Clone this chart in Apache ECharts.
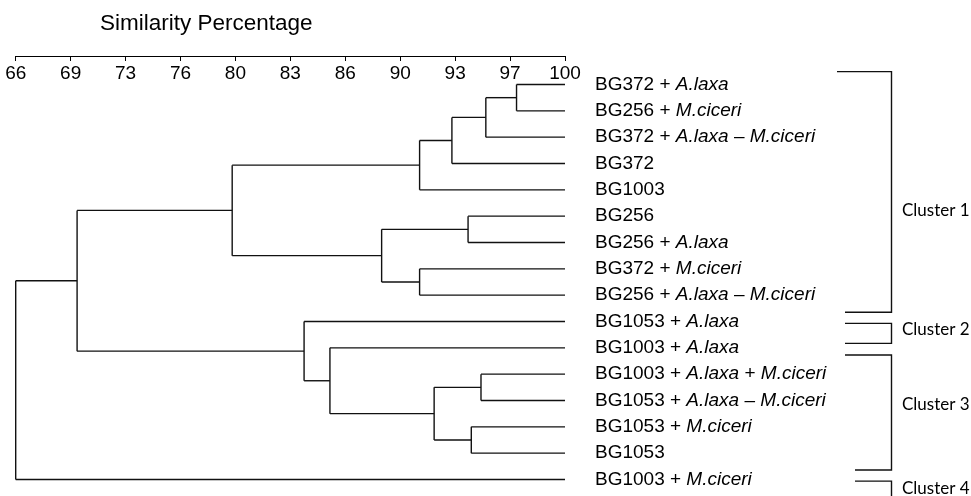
<!DOCTYPE html>
<html>
<head>
<meta charset="utf-8">
<title>Similarity Percentage</title>
<script src="https://cdn.jsdelivr.net/npm/echarts@6/dist/echarts.min.js"></script>
<style>
	html, body { margin: 0; padding: 0; background: #fff; }
	#chart { width: 971px; height: 496px; }
</style>
</head>
<body>
<div id="chart"></div>
<script>
	// 叶子（从上到下）
	var leaves = [
		'BG372 + A.laxa',
		'BG256 + M.ciceri',
		'BG372 + A.laxa – M.ciceri',
		'BG372',
		'BG1003',
		'BG256',
		'BG256 + A.laxa',
		'BG372 + M.ciceri',
		'BG256 + A.laxa – M.ciceri',
		'BG1053 + A.laxa',
		'BG1003 + A.laxa',
		'BG1003 + A.laxa + M.ciceri',
		'BG1053 + A.laxa – M.ciceri',
		'BG1053 + M.ciceri',
		'BG1053',
		'BG1003 + M.ciceri'
	];

	// 合并：[子节点A, 子节点B, 相似度%]，新节点编号依次为 16, 17, ...
	var mergeA = [0, 16, 17, 18, 5, 7, 20, 19, 11, 13, 24, 10, 9, 23, 29];
	var mergeB = [1, 2, 3, 4, 6, 8, 21, 22, 12, 14, 25, 26, 27, 28, 15];
	var mergeSim = [97.0, 95.1, 93.0, 91.0, 94.0, 91.0, 88.65, 79.4, 94.8, 94.2, 91.9, 85.45, 83.85, 69.8, 66.0];

	// 刻度
	var simMin = 66;
	var simMax = 100;
	var simStep = 3.4;

	// 聚类括号（行单位）
	var clusterNames = ['Cluster 1', 'Cluster 2', 'Cluster 3', 'Cluster 4'];
	var clusterFrom = [-0.49, 9.07, 10.27, 15.06];
	var clusterTo = [8.65, 9.83, 14.64, 16.5];
	var clusterLabelRow = [4.8, 9.32, 12.17, 15.34];

	// 括号的像素布局
	var bracketX = 891.5;
	var bracketEnds = [[837, 845], [845, 845], [845, 855], [855, 855]];
	var clusterLabelX = 902;

	var FONT = '"Liberation Sans", Arial, sans-serif';
	var LINE = '#111';

	// build segments of the tree
	var nodeX = [];
	var nodeY = [];
	for (var i = 0; i < leaves.length; i++) {
		nodeX.push(simMax);
		nodeY.push(i);
	}
	var segments = [];
	for (var k = 0; k < mergeA.length; k++) {
		var a = mergeA[k], b = mergeB[k], s = mergeSim[k];
		segments.push([s, nodeY[a], s, nodeY[b]]);
		segments.push([s, nodeY[a], nodeX[a], nodeY[a]]);
		segments.push([s, nodeY[b], nodeX[b], nodeY[b]]);
		nodeX.push(s);
		nodeY.push((nodeY[a] + nodeY[b]) / 2);
	}

	var clusterData = [];
	for (var c = 0; c < clusterNames.length; c++) {
		clusterData.push([clusterFrom[c], clusterTo[c], clusterLabelRow[c], c]);
	}

	var myChart = echarts.init(document.getElementById('chart'));
	var option = {
		animation: false,
		title: {
			text: 'Similarity Percentage',
			left: 100,
			top: 12,
			padding: 0,
			textStyle: {
				fontFamily: FONT,
				fontSize: 22.5,
				fontWeight: 'normal',
				color: '#000'
			}
		},
		grid: [{
			// 树状图区域
			left: 15.7,
			right: 406,
			top: 84.5,
			bottom: 16.5
		}, {
			// 刻度轴（底边位于 y=56）
			left: 15.7,
			right: 406,
			top: 40,
			height: 16
		}],
		xAxis: [{
			type: 'value',
			gridIndex: 0,
			min: simMin,
			max: simMax,
			show: false
		}, {
			type: 'value',
			gridIndex: 1,
			position: 'bottom',
			min: simMin,
			max: simMax,
			interval: simStep,
			axisLine: { show: true, lineStyle: { color: '#000', width: 1 } },
			axisTick: { show: true, length: 5, lineStyle: { color: '#000' } },
			axisLabel: {
				margin: 8,
				fontFamily: FONT,
				fontSize: 19,
				color: '#000',
				formatter: function (v) {
					return Math.round(v);
				}
			},
			splitLine: { show: false }
		}],
		yAxis: [{
			type: 'value',
			gridIndex: 0,
			min: 0,
			max: leaves.length - 1,
			inverse: true,
			show: false
		}, {
			type: 'category',
			gridIndex: 0,
			position: 'right',
			data: leaves,
			inverse: true,
			boundaryGap: false,
			axisLine: { show: false },
			axisTick: { show: false },
			splitLine: { show: false },
			axisLabel: {
				margin: 30,
				fontFamily: FONT,
				fontSize: 19,
				color: '#000',
				formatter: function (v) {
					return v.replace(/(A\.laxa|M\.ciceri)/g, '{i|$1}');
				},
				rich: {
					i: {
						fontFamily: FONT,
						fontSize: 19,
						fontStyle: 'italic',
						color: '#000'
					}
				}
			}
		}, {
			type: 'value',
			gridIndex: 1,
			show: false
		}],
		series: [{
			// 树状图线段
			type: 'custom',
			xAxisIndex: 0,
			yAxisIndex: 0,
			clip: false,
			silent: true,
			encode: { x: [0, 2], y: [1, 3] },
			data: segments,
			renderItem: function (params, api) {
				var p1 = api.coord([api.value(0), api.value(1)]);
				var p2 = api.coord([api.value(2), api.value(3)]);
				return {
					type: 'line',
					shape: { x1: p1[0], y1: p1[1], x2: p2[0], y2: p2[1] },
					style: { stroke: LINE, lineWidth: 1.4 }
				};
			}
		}, {
			// 聚类括号
			type: 'custom',
			xAxisIndex: 0,
			yAxisIndex: 0,
			clip: false,
			silent: true,
			encode: { y: [0, 1, 2] },
			data: clusterData,
			renderItem: function (params, api) {
				var idx = api.value(3);
				var yTop = api.coord([simMax, api.value(0)])[1];
				var yBot = api.coord([simMax, api.value(1)])[1];
				var yLab = api.coord([simMax, api.value(2)])[1];
				var ends = bracketEnds[idx];
				return {
					type: 'group',
					children: [{
						type: 'polyline',
						shape: { points: [[ends[0], yTop], [bracketX, yTop], [bracketX, yBot], [ends[1], yBot]] },
						style: { stroke: LINE, lineWidth: 1.4, fill: null }
					}, {
						type: 'text',
						style: {
							text: clusterNames[idx],
							x: clusterLabelX,
							y: yLab,
							verticalAlign: 'middle',
							fontFamily: 'Lato, "Open Sans", sans-serif',
							fontSize: 17,
							fill: '#000'
						}
					}]
				};
			}
		}]
	};
	myChart.setOption(option);
</script>
</body>
</html>
